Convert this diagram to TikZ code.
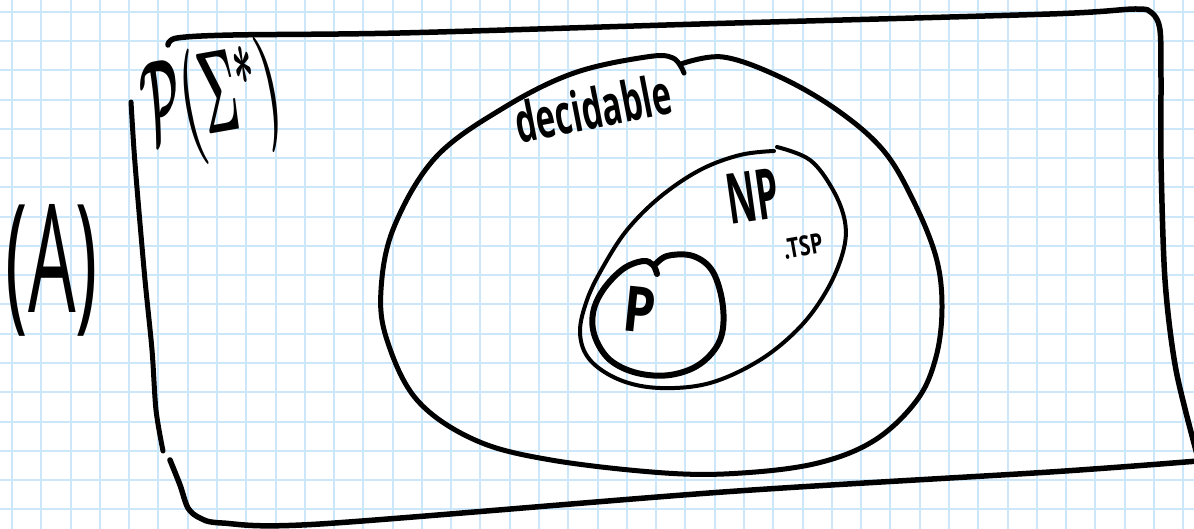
\documentclass[tikz,border=0pt]{standalone}
\usepackage{fontspec}
\usepackage{graphicx}
\setmainfont{Open Sans}
\definecolor{gridblue}{RGB}{204,231,250}
\tikzset{
  gridline/.style={draw=gridblue, line width=2pt},
  ink/.style={draw=black, line cap=round, line join=round},
  hand/.style={inner sep=0pt, outer sep=0pt, text=black, font=\bfseries},
  thinhand/.style={inner sep=0pt, outer sep=0pt, text=black, font=\mdseries}
}
\begin{document}
\begin{tikzpicture}[x=1pt, y=-1pt]
\useasboundingbox (0,0) rectangle (1194,529);
\fill[white] (0,0) rectangle (1194,529);
\clip (0,0) rectangle (1194,529);
% graph paper
\foreach \i in {0,...,40} \draw[gridline] ({12+29.28*\i},0) -- ({12+29.28*\i},529);
\foreach \j in {0,...,17} \draw[gridline] (0,{11.7+29.28*\j}) -- (1194,{11.7+29.28*\j});
% outer box  P(Sigma*)
\draw[ink, line width=5.5pt] plot[smooth, tension=0.5] coordinates {(168,45) (177,38) (233,35) (400,33) (700,24) (1050,14) (1135,9) (1152,13) (1160,30) (1161,80) (1161,160) (1165,280) (1176,370) (1198,458)};
\draw[ink, line width=5.5pt] plot[smooth, tension=0.5] coordinates {(1198,461) (1050,472) (723,492) (320,524) (222,523) (200,518) (188,508) (180,485) (170,460)};
\draw[ink, line width=5pt] plot[smooth, tension=0.5] coordinates {(131,102) (134,150) (138,200) (145,280) (152,350) (156,410) (163,451)};
% decidable
\draw[ink, line width=5pt] plot[smooth, tension=0.6] coordinates {(681,64) (723,57) (780,77) (837,110) (883,150) (913,200) (936,257) (942,307) (936,357) (917,400) (875,440) (818,463) (742,473) (665,473) (551,460) (475,440) (417,400) (387,340) (381,290) (394,227) (436,157) (505,107) (574,73) (646,57) (673,58) (684,73)};
% NP
\draw[ink, line width=4pt] plot[smooth, tension=0.6] coordinates {(777,147) (810,160) (833,190) (845,222) (843,252) (827,290) (800,327) (760,360) (710,383) (660,388) (620,380) (590,360) (580,333) (587,300) (603,267) (627,230) (660,197) (700,170) (740,155) (774,151)};
% P
\draw[ink, line width=6pt] plot[smooth, tension=0.6] coordinates {(657,274) (653,265) (643,261) (623,269) (603,290) (593,313) (595,337) (610,360) (637,373) (670,375) (700,364) (720,340) (723,307) (713,272) (693,256) (667,256) (654,266)};
% labels
\node[hand, rotate=10] (powerset) at (212,104) {\resizebox{138pt}{88pt}{\boldmath$\mathcal{P}(\Sigma^{*})$}};
\node[thinhand] (labelA) at (52,270) {\resizebox{92pt}{108pt}{(A)}};
\node[hand, rotate=11] (decidable) at (593,108) {\resizebox{158pt}{42pt}{decidable}};
\node[hand, rotate=8] (np) at (753,196) {\resizebox{52pt}{50pt}{NP}};
\node[hand, rotate=10] (tsp) at (803,246) {\resizebox{40pt}{20pt}{.TSP}};
\node[hand, rotate=-6] (p) at (640,310) {\resizebox{32pt}{45pt}{P}};
\end{tikzpicture}
\end{document}
